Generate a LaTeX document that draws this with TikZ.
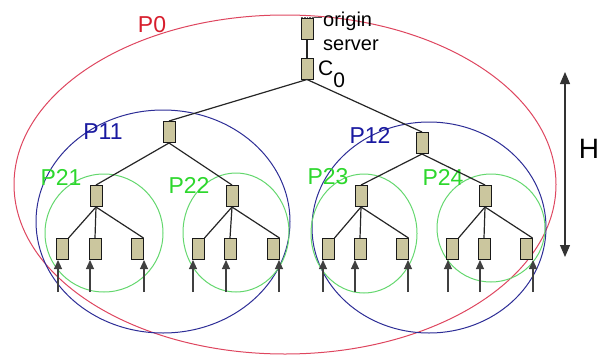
\documentclass[tikz,border=0pt]{standalone}
\usepackage{fontspec}
\setmainfont{Liberation Sans}
\usetikzlibrary{arrows.meta}
\definecolor{boxfill}{RGB}{203,198,158}
\definecolor{pred}{RGB}{215,30,45}
\definecolor{ellred}{RGB}{222,70,95}
\definecolor{pblue}{RGB}{25,25,160}
\definecolor{ellblue}{RGB}{45,45,150}
\definecolor{pgreen}{RGB}{45,215,45}
\definecolor{ellgreen}{RGB}{100,215,110}
\tikzset{
  cache/.style={draw=black!90, fill=boxfill, line width=1pt, minimum width=12pt, minimum height=21pt, inner sep=0pt},
  edge/.style={draw=black!85, line width=1.2pt},
  inarrow/.style={draw=black!75, line width=1.1pt, -{Triangle[width=8pt,length=9pt]}},
  redell/.style={draw=ellred, line width=1pt},
  blueell/.style={draw=ellblue, line width=1pt},
  greenell/.style={draw=ellgreen, line width=1pt},
  lbl/.style={inner sep=0pt, font=\fontsize{23}{23}\selectfont}
}
\begin{document}
\begin{tikzpicture}[x=1pt,y=-1pt]
\useasboundingbox (0,0) rectangle (599,356);
% partitions
\draw[redell] (285,184.5) ellipse [x radius=271, y radius=169.5];
\draw[blueell] (163,221.5) ellipse [x radius=127, y radius=111.5];
\draw[blueell] (429,227.5) ellipse [x radius=117, y radius=105.5];
\draw[greenell] (104,233) ellipse [x radius=59, y radius=59];
\draw[greenell] (236,232.5) ellipse [x radius=53, y radius=59.5];
\draw[greenell] (364,233.5) ellipse [x radius=53, y radius=59.5];
\draw[greenell] (491,228) ellipse [x radius=54, y radius=54];
% labels
\node[lbl, text=pred] (lP0) at (152,25) {P0};
\node[lbl, text=pblue] (lP11) at (103,132) {P11};
\node[lbl, text=pblue] (lP12) at (370,135) {P12};
\node[lbl, text=pgreen] (lP21) at (61,177) {P21};
\node[lbl, text=pgreen] (lP22) at (189,185) {P22};
\node[lbl, text=pgreen] (lP23) at (328,177) {P23};
\node[lbl, text=pgreen] (lP24) at (443,177) {P24};
% nodes
\node[cache] (os) at (307,28.5) {};
\node[cache] (c0) at (307,68.5) {};
\node[cache] (n11) at (169,132) {};
\node[cache] (n12) at (422,143) {};
\node[cache] (n21) at (96,196) {};
\node[cache] (n22) at (232,196) {};
\node[cache] (n23) at (361,196) {};
\node[cache] (n24) at (485,196) {};
\foreach \x [count=\i] in {62,95,137,198,230,273,328,360,402,452,484,526} {
  \node[cache] (l\i) at (\x,249) {};
}
% texts
\node[anchor=west, inner sep=0pt, align=left, font=\fontsize{20}{24}\selectfont] (ostext) at (323,31) {origin\\server};
\draw[densely dotted, black!60, line width=0.6pt] (os.north west) -- (os.north east);
\draw[black!70, line width=0.9pt] (os.north east) -- ([xshift=-1pt]ostext.west |- os.north);
\node[anchor=west, inner sep=0pt, font=\fontsize{21}{21}\selectfont] (c0text) at (318,74) {C\raisebox{-0.55em}{0}};
\node[inner sep=0pt, font=\fontsize{28}{28}\selectfont] (H) at (589,149) {H};
% tree edges
\draw[edge] (os.south) -- (c0.north);
\draw[edge] (c0.south) -- (n11.north);
\draw[edge] (c0.south) -- (n12.north);
\draw[edge] (n11.south) -- (n21.north);
\draw[edge] (n11.south) -- (n22.north);
\draw[edge] (n12.south) -- (n23.north);
\draw[edge] (n12.south) -- (n24.north);
\foreach \p/\a/\b/\c in {n21/1/2/3, n22/4/5/6, n23/7/8/9, n24/10/11/12} {
  \draw[edge] (\p.south) -- (l\a.north east);
  \draw[edge] (\p.south) -- (l\b.north);
  \draw[edge] (\p.south) -- (l\c.north east);
}
% incoming arrows
\foreach \x [count=\i] in {58,90,144,193,226,279,323,355,408,448,480,533} {
  \coordinate (s\i) at (\x,292);
  \draw[inarrow] (s\i) -- (s\i |- l\i.south);
}
% H arrow
\coordinate (Htop) at (565,72);
\coordinate (Hbot) at (565,257);
\draw[black!80, line width=1.1pt, {Triangle[width=10pt,length=12pt]}-{Triangle[width=10pt,length=12pt]}] (Htop) -- (Hbot);
\end{tikzpicture}
\end{document}
